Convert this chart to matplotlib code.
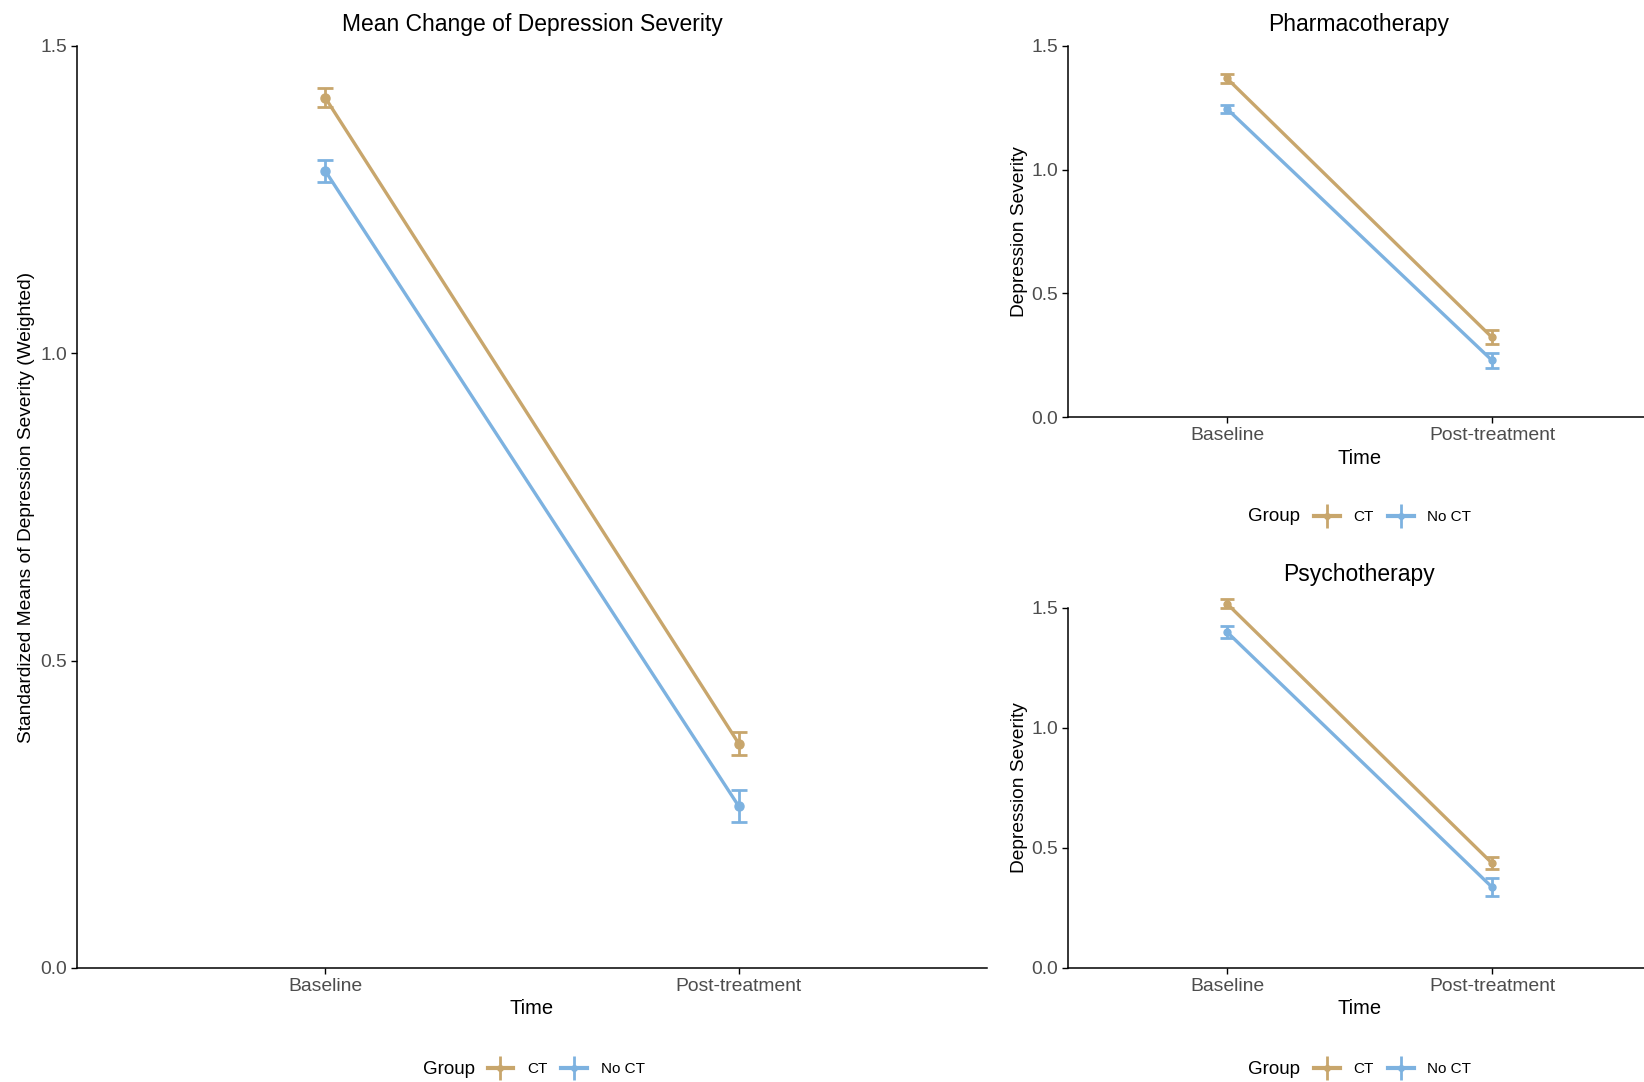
import numpy as np
import matplotlib
matplotlib.use("Agg")
import matplotlib.pyplot as plt
from matplotlib.lines import Line2D
from matplotlib.legend_handler import HandlerTuple

plt.rcParams["font.family"] = ["Liberation Sans", "DejaVu Sans"]

CT_COL = "#C8A66C"
NOCT_COL = "#7DB2E0"
GREY = "#4D4D4D"

times = ["Baseline", "Post-treatment"]
groups = ["CT", "No CT"]

# overall (weighted standardized means)
all_ct = [1.416, 0.365]
all_ct_err = [0.015, 0.019]
all_noct = [1.297, 0.263]
all_noct_err = [0.018, 0.026]

# pharmacotherapy
ph_ct = [1.369, 0.322]
ph_ct_err = [0.017, 0.028]
ph_noct = [1.246, 0.229]
ph_noct_err = [0.017, 0.030]

# psychotherapy
ps_ct = [1.518, 0.437]
ps_ct_err = [0.018, 0.026]
ps_noct = [1.400, 0.337]
ps_noct_err = [0.026, 0.037]

yticks = [0.0, 0.5, 1.0, 1.5]

W, H = 1644, 1082
fig = plt.figure(figsize=(W / 100, H / 100), dpi=100)


def rect(l, r, t, b):
    return [l / W, 1 - b / H, (r - l) / W, (b - t) / H]


def panel(ax, ct, cte, noct, ncte, ylabel, cap, ms, xlab_y, ylab_x):
    x = np.arange(1, len(times) + 1)
    for m, e, col in [(ct, cte, CT_COL), (noct, ncte, NOCT_COL)]:
        ax.plot(x, m, color=col, lw=2.4, solid_capstyle="butt", zorder=2, clip_on=False)
        eb = ax.errorbar(x, m, yerr=e, fmt="o", color=col, ms=ms, elinewidth=2.0,
                         capsize=cap, capthick=2.0, zorder=3)
        for art in eb.lines[0:1] + tuple(eb.lines[1]) + tuple(eb.lines[2]):
            art.set_clip_on(False)
    ax.set_xlim(0.4, 2.6)
    ax.set_ylim(0, 1.5)
    ax.set_xticks(x)
    ax.set_xticklabels(times)
    ax.set_yticks(yticks)
    ax.set_yticklabels([f"{v:.1f}" for v in yticks])
    for s in ("top", "right"):
        ax.spines[s].set_visible(False)
    for s in ("left", "bottom"):
        ax.spines[s].set_linewidth(1.1)
    ax.tick_params(labelsize=13.9, colors="black", labelcolor=GREY, length=4, width=1.0, pad=3)
    ax.set_xlabel("Time", fontsize=14.5, va="center")
    ax.xaxis.set_label_coords(0.5, xlab_y)
    ax.set_ylabel(ylabel, fontsize=13.8, va="center")
    ax.yaxis.set_label_coords(ylab_x, 0.5)


def legend(x_key, x_group, y):
    hs = []
    for col in (CT_COL, NOCT_COL):
        hs.append((Line2D([], [], color=col, lw=3),
                   Line2D([], [], color=col, marker="|", ms=17, mew=2, ls="none"),
                   Line2D([], [], color=col, marker="o", ms=4, ls="none")))
    fig.legend(hs, groups, loc="center left", bbox_to_anchor=(x_key / W, 1 - y / H),
               ncol=2, frameon=False, fontsize=11, handlelength=1.7, handletextpad=0.9,
               columnspacing=0.9, borderpad=0, borderaxespad=0,
               handler_map={tuple: HandlerTuple(ndivide=1)})
    fig.text(x_group / W, 1 - y / H, "Group", ha="right", va="center", fontsize=13.5)


ax1 = fig.add_axes(rect(77, 987, 46, 968))
panel(ax1, all_ct, all_ct_err, all_noct, all_noct_err,
      "Standardized Means of Depression Severity (Weighted)", 6, 6.5,
      (968 - 1008) / 922, (27 - 77) / 910)
fig.text((77 + 987) / 2 / W, 1 - 24 / H, "Mean Change of Depression Severity",
         ha="center", va="center", fontsize=16.5)
legend(487.5, 475, 1069)

ax2 = fig.add_axes(rect(1068, 1651, 46, 417))
panel(ax2, ph_ct, ph_ct_err, ph_noct, ph_noct_err,
      "Depression Severity", 5, 5, (417 - 459) / 371, (1019 - 1068) / 583)
fig.text(1359 / W, 1 - 24 / H, "Pharmacotherapy",
         ha="center", va="center", fontsize=16.5)
legend(1313.7, 1300, 517)

ax3 = fig.add_axes(rect(1068, 1651, 608, 968))
panel(ax3, ps_ct, ps_ct_err, ps_noct, ps_noct_err,
      "Depression Severity", 5, 5, (968 - 1008) / 360, (1019 - 1068) / 583)
fig.text(1359 / W, 1 - 575 / H, "Psychotherapy",
         ha="center", va="center", fontsize=16.5)
legend(1313.7, 1300, 1069)

fig.savefig("out.png", dpi=100, facecolor="white")
